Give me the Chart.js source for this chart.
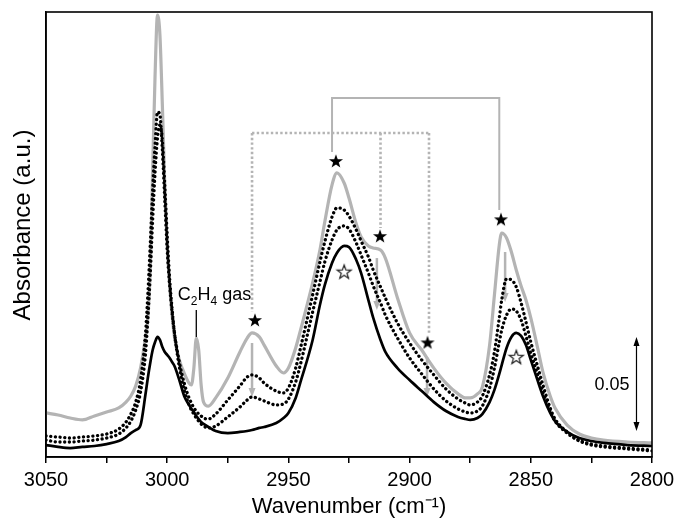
<!DOCTYPE html>
<html><head><meta charset="utf-8">
<script src="https://cdn.jsdelivr.net/npm/chart.js@4/dist/chart.umd.min.js"></script>
<style>html,body{margin:0;padding:0;background:#fff;}#wrap{width:675px;height:522px;}</style>
</head><body><div id="wrap"><canvas id="c" width="675" height="522"></canvas></div>
<script>
// ---- data (wavenumber in cm-1, absorbance in a.u.) ----
const wavenumbers = [3050,3045,3040,3035,3030,3025,3020,3017,3015,3013,3011,3009,3008,3007,3006,3005,3004,3003,3002,3001,3000,2999,2998,2997,2995,2993,2991,2990,2989,2988,2987,2986,2985,2983,2980,2975,2970,2967,2965,2962,2960,2955,2952,2950,2947,2945,2940,2937,2935,2932,2930,2927,2925,2922,2920,2917,2915,2912,2910,2905,2900,2895,2890,2885,2880,2877,2875,2872,2870,2867,2865,2863,2862,2860,2858,2856,2854,2852,2850,2847,2845,2842,2840,2835,2830,2825,2820,2810,2800];
const grayAbs = [0.0232,0.0221,0.0205,0.0195,0.0216,0.0237,0.0258,0.0289,0.0321,0.0374,0.0468,0.0626,0.0732,0.0984,0.1511,0.2011,0.2326,0.2221,0.1853,0.1432,0.1116,0.0905,0.0747,0.0632,0.0511,0.0442,0.0389,0.0379,0.0468,0.0626,0.0563,0.0379,0.0289,0.0268,0.0311,0.0416,0.0553,0.0626,0.0653,0.0632,0.0589,0.0479,0.0442,0.0468,0.0574,0.0668,0.0916,0.1089,0.1237,0.1432,0.1495,0.1442,0.1363,0.1226,0.1158,0.1111,0.1100,0.1089,0.1047,0.0837,0.0653,0.0563,0.0468,0.0389,0.0332,0.0311,0.0311,0.0332,0.0368,0.0589,0.0853,0.1116,0.1179,0.1153,0.1079,0.0984,0.0900,0.0826,0.0732,0.0563,0.0447,0.0321,0.0258,0.0168,0.0121,0.0100,0.0089,0.0079,0.0074];
const dotted1Abs = [0.0111,0.0105,0.0100,0.0105,0.0111,0.0121,0.0147,0.0184,0.0226,0.0289,0.0405,0.0642,0.0853,0.1116,0.1405,0.1642,0.1816,0.1800,0.1616,0.1353,0.1089,0.0905,0.0763,0.0653,0.0500,0.0389,0.0311,0.0284,0.0258,0.0242,0.0226,0.0216,0.0205,0.0200,0.0226,0.0300,0.0374,0.0421,0.0432,0.0416,0.0389,0.0347,0.0337,0.0363,0.0468,0.0574,0.0853,0.1026,0.1132,0.1263,0.1311,0.1300,0.1268,0.1195,0.1137,0.1053,0.0984,0.0895,0.0837,0.0705,0.0600,0.0511,0.0432,0.0358,0.0305,0.0284,0.0274,0.0289,0.0321,0.0432,0.0553,0.0732,0.0826,0.0937,0.0932,0.0895,0.0811,0.0711,0.0605,0.0468,0.0379,0.0258,0.0200,0.0132,0.0089,0.0068,0.0058,0.0047,0.0037];
const dotted2Abs = [0.0089,0.0079,0.0079,0.0084,0.0089,0.0100,0.0121,0.0153,0.0189,0.0247,0.0342,0.0537,0.0721,0.0958,0.1247,0.1500,0.1679,0.1747,0.1668,0.1432,0.1168,0.0942,0.0784,0.0653,0.0474,0.0353,0.0274,0.0247,0.0226,0.0205,0.0189,0.0174,0.0163,0.0153,0.0163,0.0211,0.0263,0.0300,0.0316,0.0305,0.0295,0.0274,0.0279,0.0305,0.0395,0.0489,0.0763,0.0921,0.1026,0.1142,0.1195,0.1216,0.1200,0.1126,0.1063,0.0968,0.0900,0.0811,0.0747,0.0626,0.0521,0.0437,0.0358,0.0295,0.0253,0.0237,0.0232,0.0242,0.0268,0.0363,0.0468,0.0605,0.0668,0.0747,0.0779,0.0768,0.0721,0.0637,0.0547,0.0426,0.0342,0.0242,0.0189,0.0126,0.0084,0.0063,0.0053,0.0042,0.0032];
const blackAbs = [0.0063,0.0053,0.0047,0.0053,0.0058,0.0068,0.0084,0.0105,0.0126,0.0142,0.0168,0.0326,0.0416,0.0495,0.0563,0.0605,0.0632,0.0616,0.0579,0.0553,0.0537,0.0521,0.0500,0.0479,0.0405,0.0321,0.0274,0.0253,0.0237,0.0216,0.0200,0.0184,0.0174,0.0158,0.0137,0.0126,0.0132,0.0137,0.0142,0.0153,0.0158,0.0179,0.0205,0.0232,0.0311,0.0395,0.0616,0.0800,0.0905,0.1021,0.1074,0.1111,0.1105,0.1037,0.0968,0.0826,0.0732,0.0616,0.0553,0.0468,0.0405,0.0347,0.0289,0.0242,0.0211,0.0200,0.0195,0.0205,0.0226,0.0289,0.0353,0.0437,0.0484,0.0574,0.0632,0.0653,0.0637,0.0589,0.0511,0.0395,0.0321,0.0232,0.0189,0.0132,0.0100,0.0084,0.0074,0.0063,0.0058];
const xTickLabels = [3050,3000,2950,2900,2850,2800];
const filledStarWn = [2930.4,2912.2,2963.8,2892.6,2862.3];
const filledStarAbs = [0.1558,0.1163,0.0721,0.0603,0.1251];
const hollowStarWn = [2927,2856];
const hollowStarAbs = [0.0975,0.0526];
const solidBracketWn = [2932,2863];
const solidBracketEnds = [0.1605,0.1300];
const solidBracketTop = 0.189;
const dottedBracketWn = [2965,2912,2892];
const dottedBracketEnds = [0.0763,0.1205,0.0647];
const dottedBracketTop = 0.1705;
const arrowWn = [2965,2913.5,2892.8,2860.6];
const arrowFrom = [0.0600,0.1047,0.0526,0.1079];
const arrowTo = [0.0316,0.0774,0.0316,0.0816];
const gasMarkWn = 2988, gasMarkFrom = 0.0632, gasMarkTo = 0.0774;
const gasLabelWn = 2980.5, gasLabelAbs = 0.0826;
const scaleBarWn = 2806.4, scaleBarFrom = 0.0137, scaleBarTo = 0.0632;
const scaleBarLabel = '0.05', scaleBarLabelWn = 2809.3, scaleBarLabelAbs = 0.0379;
const yTitle = 'Absorbance (a.u.)', yTitleAbs = 0.1221;

const FONT = "'Liberation Sans', Arial, Helvetica, sans-serif";
const GRAY = '#b4b4b4';

function makeStar(filled){
  const s = 18, c = document.createElement('canvas');
  c.width = s; c.height = s;
  const g = c.getContext('2d');
  const R = 7.4, r = 3.0, cx = s/2, cy = s/2 + 0.6;
  g.beginPath();
  for (let i=0;i<10;i++){
    const a = -Math.PI/2 + i*Math.PI/5;
    const rr = i%2===0 ? R : r;
    const x = cx + rr*Math.cos(a), y = cy + rr*Math.sin(a);
    i===0 ? g.moveTo(x,y) : g.lineTo(x,y);
  }
  g.closePath();
  if (filled){ g.fillStyle='#000'; g.fill(); }
  else { g.fillStyle='#fff'; g.fill(); g.strokeStyle='#222'; g.lineWidth=1.2; g.stroke(); }
  return c;
}

const toXY = ys => wavenumbers.map((w,i)=>({x:w,y:ys[i]}));

const annot = {
  id:'annot',
  beforeDatasetsDraw(chart){
    const {ctx, scales:{x,y}} = chart;
    ctx.save();
    ctx.strokeStyle = GRAY; ctx.lineWidth = 2; ctx.setLineDash([]);
    ctx.beginPath();
    ctx.moveTo(x.getPixelForValue(solidBracketWn[0]), y.getPixelForValue(solidBracketEnds[0]));
    ctx.lineTo(x.getPixelForValue(solidBracketWn[0]), y.getPixelForValue(solidBracketTop));
    ctx.lineTo(x.getPixelForValue(solidBracketWn[1]), y.getPixelForValue(solidBracketTop));
    ctx.lineTo(x.getPixelForValue(solidBracketWn[1]), y.getPixelForValue(solidBracketEnds[1]));
    ctx.stroke();
    ctx.lineWidth = 2.6; ctx.setLineDash([2.4,2.3]);
    const ty = y.getPixelForValue(dottedBracketTop);
    ctx.beginPath();
    ctx.moveTo(x.getPixelForValue(dottedBracketWn[0]), ty);
    ctx.lineTo(x.getPixelForValue(dottedBracketWn[2]), ty);
    ctx.stroke();
    dottedBracketWn.forEach((w,i)=>{
      ctx.beginPath();
      ctx.moveTo(x.getPixelForValue(w), ty);
      ctx.lineTo(x.getPixelForValue(w), y.getPixelForValue(dottedBracketEnds[i]));
      ctx.stroke();
    });
    ctx.setLineDash([]);
    arrowWn.forEach((w,i)=>{
      const px = x.getPixelForValue(w), y0 = y.getPixelForValue(arrowFrom[i]), y1 = y.getPixelForValue(arrowTo[i]);
      ctx.strokeStyle = GRAY; ctx.fillStyle = GRAY; ctx.lineWidth = 2.5;
      ctx.beginPath(); ctx.moveTo(px,y0); ctx.lineTo(px,y1-7); ctx.stroke();
      ctx.beginPath(); ctx.moveTo(px-3.5,y1-9); ctx.lineTo(px+3.5,y1-9); ctx.lineTo(px,y1); ctx.closePath(); ctx.fill();
    });
    ctx.restore();
  },
  afterDraw(chart){
    const {ctx, chartArea:a, scales:{x,y}} = chart;
    ctx.save();
    ctx.strokeStyle='#000'; ctx.lineWidth=1.6;
    ctx.strokeRect(a.left, a.top, a.right-a.left, a.bottom-a.top);
    // y-axis title
    ctx.save();
    ctx.translate(23, y.getPixelForValue(yTitleAbs));
    ctx.rotate(-Math.PI/2);
    ctx.font = '24px '+FONT; ctx.fillStyle='#000'; ctx.textAlign='center'; ctx.textBaseline='middle';
    ctx.fillText(yTitle, 0, 0);
    ctx.restore();
    // C2H4 marker
    const gx = x.getPixelForValue(gasMarkWn);
    ctx.lineWidth = 1.3;
    ctx.beginPath(); ctx.moveTo(gx, y.getPixelForValue(gasMarkFrom)); ctx.lineTo(gx, y.getPixelForValue(gasMarkTo)); ctx.stroke();
    const parts = [['C',18,0],['2',12,5],['H',18,0],['4',12,5],[' gas',18,0]];
    let total = 0;
    parts.forEach(p=>{ ctx.font = p[1]+'px '+FONT; total += ctx.measureText(p[0]).width; });
    let tx = x.getPixelForValue(gasLabelWn) - total/2;
    const by = y.getPixelForValue(gasLabelAbs);
    ctx.fillStyle = '#000'; ctx.textBaseline='alphabetic'; ctx.textAlign='left';
    parts.forEach(p=>{ ctx.font = p[1]+'px '+FONT; ctx.fillText(p[0], tx, by+p[2]); tx += ctx.measureText(p[0]).width; });
    // scale bar
    const sx = x.getPixelForValue(scaleBarWn), s0 = y.getPixelForValue(scaleBarFrom), s1 = y.getPixelForValue(scaleBarTo);
    ctx.lineWidth = 1.2;
    ctx.beginPath(); ctx.moveTo(sx, s0-6); ctx.lineTo(sx, s1+6); ctx.stroke();
    ctx.beginPath(); ctx.moveTo(sx, s1); ctx.lineTo(sx-3, s1+9); ctx.lineTo(sx+3, s1+9); ctx.closePath(); ctx.fill();
    ctx.beginPath(); ctx.moveTo(sx, s0); ctx.lineTo(sx-3, s0-9); ctx.lineTo(sx+3, s0-9); ctx.closePath(); ctx.fill();
    ctx.font = '18px '+FONT; ctx.textAlign='right'; ctx.textBaseline='middle';
    ctx.fillText(scaleBarLabel, x.getPixelForValue(scaleBarLabelWn), y.getPixelForValue(scaleBarLabelAbs));
    ctx.restore();
  }
};

const lineBase = {pointRadius:0, fill:false, cubicInterpolationMode:'monotone'};

new Chart(document.getElementById('c'), {
  type:'line',
  data:{datasets:[
    {label:'filled stars', type:'scatter', data: filledStarWn.map((w,i)=>({x:w,y:filledStarAbs[i]})), pointStyle: makeStar(true), pointRadius:7, showLine:false},
    {label:'hollow stars', type:'scatter', data: hollowStarWn.map((w,i)=>({x:w,y:hollowStarAbs[i]})), pointStyle: makeStar(false), pointRadius:7, showLine:false},
    Object.assign({label:'solid black', data: toXY(blackAbs), borderColor:'#000', borderWidth:2.7}, lineBase),
    Object.assign({label:'dotted 1', data: toXY(dotted1Abs), borderColor:'#000', borderWidth:3.3, borderDash:[0.1,4.6], borderCapStyle:'round'}, lineBase),
    Object.assign({label:'dotted 2', data: toXY(dotted2Abs), borderColor:'#000', borderWidth:3.3, borderDash:[0.1,4.6], borderCapStyle:'round'}, lineBase),
    Object.assign({label:'gray', data: toXY(grayAbs), borderColor:GRAY, borderWidth:3.2}, lineBase)
  ]},
  options:{
    responsive:false, animation:false, devicePixelRatio:1,
    layout:{padding:{top:12, right:23, left:0, bottom:0}},
    plugins:{legend:{display:false}, tooltip:{enabled:false}},
    scales:{
      x:{type:'linear', reverse:true, min:2800, max:3050,
        ticks:{stepSize:25, autoSkip:false, maxRotation:0, color:'#000', padding:5,
          font:{size:20, family:FONT},
          callback:v=> xTickLabels.includes(v) ? String(v) : ''},
        grid:{drawOnChartArea:false, drawTicks:true, tickLength:6, color:'#000', lineWidth:1.5},
        border:{display:true, color:'#000', width:1.5},
        title:{display:true, text:'Wavenumber (cm⁻¹)', color:'#000', font:{size:22, family:FONT}, padding:{top:0, bottom:2}},
        afterFit:s=>{ s.height = 65; s.paddingLeft = 0; s.paddingRight = 0; }
      },
      y:{min:0, max:0.2342,
        ticks:{display:false},
        grid:{display:false, drawTicks:false},
        border:{display:true, color:'#000', width:1.5},
        title:{display:false},
        afterFit:s=>{ s.width = 46; }
      }
    }
  },
  plugins:[annot]
});
</script></body></html>
